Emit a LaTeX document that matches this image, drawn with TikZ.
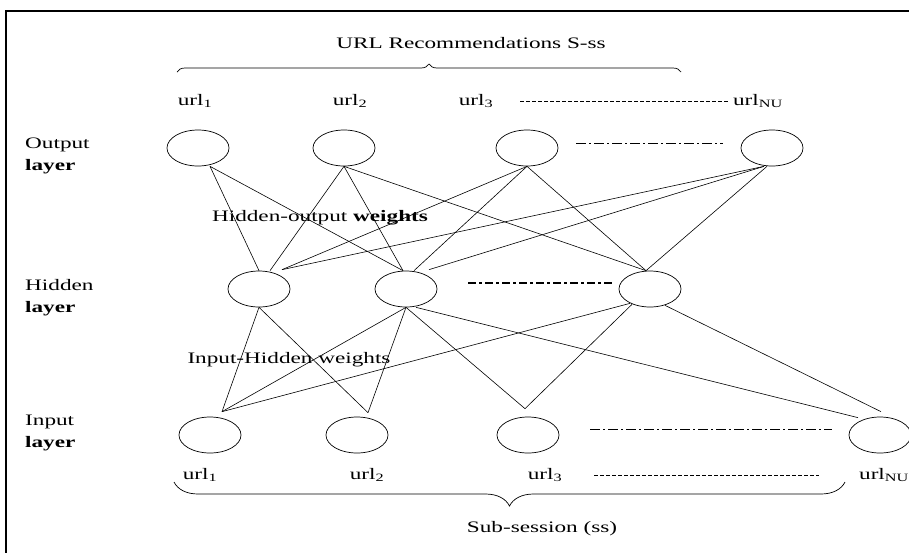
\documentclass[tikz,border=0pt]{standalone}
\usepackage{fontspec}
\setmainfont{Liberation Serif}[FakeStretch=1.45]
\usetikzlibrary{shapes.geometric,decorations.pathreplacing}

\begin{document}
\begin{tikzpicture}[x=1pt,y=-1pt,
  neuron/.style={draw, ellipse, minimum width=62pt, minimum height=36pt, inner sep=0pt, line width=0.7pt},
  wire/.style={line width=0.6pt},
  lbl/.style={font=\fontsize{16}{22}\selectfont, inner sep=0pt},
  laylbl/.style={lbl, align=left, anchor=west},
  dotdash/.style={line width=0.7pt, dash pattern=on 10pt off 3pt on 2pt off 3pt},
  dashline/.style={line width=0.6pt, dash pattern=on 4pt off 2pt}]
\useasboundingbox (0,0) rectangle (909,552);

% Frame
\begin{scope}
\clip (0,0) rectangle (909,552);
\draw[line width=2.5pt] (6,11) rectangle (940,580);
\end{scope}

% Titles and braces
\node[lbl] (rec) at (471,43) {URL Recommendations S-ss};
\draw[line width=0.7pt, decorate, decoration={brace, amplitude=8pt}] (177,72) -- (681,72);
\draw[line width=0.7pt, decorate, decoration={brace, amplitude=24pt}] (845,482) -- (174,482);
\node[lbl] (sub) at (542,529) {Sub-session (ss)};

% Layer names
\node[laylbl] (outlay) at (25,156) {Output\\\textbf{layer}};
\node[laylbl] (hidlay) at (25,298) {Hidden\\\textbf{layer}};
\node[laylbl] (inlay) at (25,433) {Input\\\textbf{layer}};

% Output layer
\node[neuron] (O1) at (198,148) {};
\node[neuron] (O2) at (344,148) {};
\node[neuron] (O3) at (527,148) {};
\node[neuron] (O4) at (772,148) {};
\node[lbl] (ou1) at (195,101) {url\textsubscript{1}};
\node[lbl] (ou2) at (350,101) {url\textsubscript{2}};
\node[lbl] (ou3) at (476,101) {url\textsubscript{3}};
\node[lbl] (ouN) at (758,101) {url\textsubscript{NU}};
\draw[dashline] ([xshift=27pt]ou3.east) -- ([xshift=-5pt]ouN.west);
\draw[dotdash] ([xshift=18pt, yshift=5pt]O3.east) -- ([xshift=-18pt, yshift=5pt]O4.west);

% Hidden layer
\node[neuron] (H1) at (259,289) {};
\node[neuron] (H2) at (406,289) {};
\node[neuron] (H3) at (650,289) {};
\draw[dotdash, line width=2pt, dash pattern=on 8pt off 3pt on 3pt off 3pt] ([xshift=31pt, yshift=6pt]H2.east) -- ([xshift=-6pt, yshift=6pt]H3.west);

% Input layer
\node[neuron] (I1) at (210,435) {};
\node[neuron] (I2) at (357,435) {};
\node[neuron] (I3) at (528,435) {};
\node[neuron] (I4) at (880,435) {};
\node[lbl] (iu1) at (200,475) {url\textsubscript{1}};
\node[lbl] (iu2) at (367,475) {url\textsubscript{2}};
\node[lbl] (iu3) at (545,475) {url\textsubscript{3}};
\node[lbl] (iuN) at (884,475) {url\textsubscript{NU}};
\draw[dotdash] ([xshift=31pt, yshift=6pt]I3.east) -- ([xshift=-17pt, yshift=6pt]I4.west);
\draw[dashline] ([xshift=32pt]iu3.east) -- ([xshift=-40pt]iuN.west);

% Hidden-output weights
\draw[wire] ([xshift=12pt]O1.south) -- (H1.north);
\draw[wire] ([xshift=12pt]O1.south) -- ([xshift=-3pt]H2.north);
\draw[wire] (O2.south) -- ([xshift=11pt]H1.north);
\draw[wire] (O2.south) -- ([xshift=-3pt]H2.north);
\draw[wire] (O2.south) -- ([xshift=-4pt]H3.north);
\draw[wire] (O3.south) -- ([xshift=23pt,yshift=1pt]H1.north);
\draw[wire] (O3.south) -- ([xshift=8pt]H2.north);
\draw[wire] (O3.south) -- ([xshift=-4pt]H3.north);
\draw[wire] ([xshift=-8pt]O4.south) -- ([xshift=23pt,yshift=1pt]H1.north);
\draw[wire] ([xshift=-8pt]O4.south) -- ([xshift=23pt,yshift=1pt]H2.north);
\draw[wire] ([xshift=-5pt]O4.south) -- ([xshift=-4pt]H3.north);
\node[lbl] (how) at (320,218) {Hidden-output \textbf{weights}};

% Input-Hidden weights
\draw[wire] (H1.south) -- ([xshift=12pt,yshift=5pt]I1.north);
\draw[wire] (H1.south) -- ([xshift=11pt,yshift=4pt]I2.north);
\draw[wire] (H2.south) -- ([xshift=12pt,yshift=5pt]I1.north);
\draw[wire] (H2.south) -- ([xshift=11pt,yshift=4pt]I2.north);
\draw[wire] (H2.south) -- ([xshift=-3pt,yshift=8pt]I3.north);
\draw[wire] ([xshift=10pt]H2.south) -- ([xshift=-22pt,yshift=-1pt]I4.north);
\draw[wire] ([xshift=-20pt,yshift=4pt]H3.south) -- ([xshift=12pt,yshift=5pt]I1.north);
\draw[wire] ([xshift=-18pt,yshift=3pt]H3.south) -- ([xshift=-3pt,yshift=8pt]I3.north);
\draw[wire] ([xshift=15pt,yshift=2pt]H3.south) -- ([xshift=1pt,yshift=5pt]I4.north);
\node[lbl] (ihw) at (289,360) {Input-Hidden weights};
\end{tikzpicture}
\end{document}
